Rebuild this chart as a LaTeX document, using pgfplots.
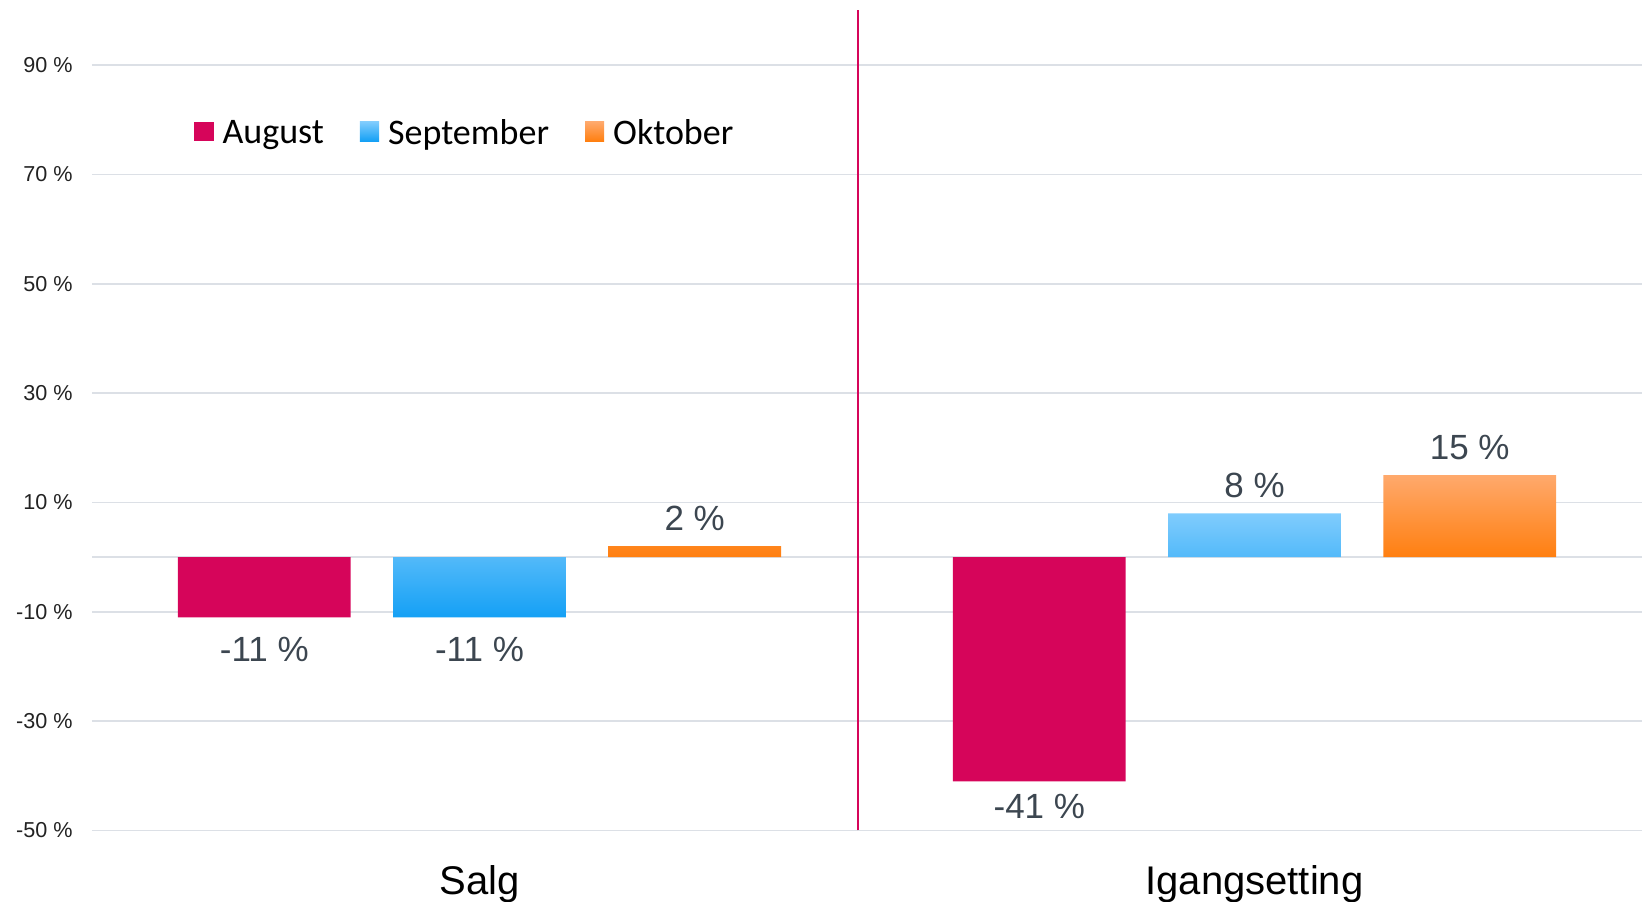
\documentclass[border=0pt]{standalone}
\usepackage{pgfplots}
\pgfplotsset{compat=1.18}
\usepackage{fontspec}
\setmainfont{Liberation Sans}
\newfontfamily\legfont{Carlito}
\definecolor{aug}{HTML}{D6055A}
\definecolor{septop}{HTML}{80CCFD}
\definecolor{sepbot}{HTML}{14A0F5}
\definecolor{okttop}{HTML}{FFA96C}
\definecolor{oktbot}{HTML}{FF7F10}
\definecolor{gridc}{HTML}{DCE0E6}
\definecolor{ticktxt}{HTML}{222222}
\definecolor{valtxt}{HTML}{3C4650}
\begin{document}
\begin{tikzpicture}
\begin{axis}[
  scale only axis,
  width=775pt, height=410pt,
  xmin=-0.5, xmax=1.5,
  ymin=-50, ymax=100,
  axis line style={draw=none},
  major tick length=0pt,
  ybar=21.2pt,
  bar width=86.4pt,
  /pgf/number format/assume math mode=true,
  xtick={0,1},
  xticklabels={Salg,Igangsetting},
  xticklabel style={font=\fontsize{20}{24}\selectfont, text=black, inner sep=0pt, yshift=-17.5pt},
  ytick={-50,-30,...,90},
  yticklabel={\pgfmathprintnumber{\tick}~\%},
  yticklabel style={font=\fontsize{10.8}{13}\selectfont, text=ticktxt, inner sep=0pt, xshift=-9.5pt},
  ymajorgrids,
  grid style={gridc, line width=0.9pt},
  extra y ticks={0},
  extra y tick labels={},
  extra y tick style={grid style={gridc, line width=0.9pt}},
  nodes near coords={\pgfmathprintnumber{\pgfplotspointmeta}~\%},
  every node near coord/.append style={font=\fontsize{17.5}{20}\selectfont, text=valtxt, inner sep=6.5pt},
  coordinate style/.condition={y>0}{yshift=1.2pt},
  coordinate style/.condition={y<0 && y>-20}{yshift=-3.5pt},
  legend columns=3,
  legend style={at={(rel axis cs:0.0658,0.8495)}, anchor=west, draw=none, fill=none, inner sep=0pt,
    font=\legfont\fontsize{18}{21}\selectfont,
    nodes={inner sep=0pt},
    /tikz/every odd column/.append style={column sep=4.5pt},
    /tikz/every even column/.append style={column sep=18pt}},
  legend image code/.code={\fill[#1,draw=none] (0pt,-3.6pt) rectangle (9.6pt,6pt);},
]
\addplot[fill=aug, draw=none] coordinates {(0,-11) (1,-41)};
\addplot[top color=septop, bottom color=sepbot, draw=none] coordinates {(0,-11) (1,8)};
\addplot[top color=okttop, bottom color=oktbot, draw=none] coordinates {(0,2) (1,15)};
\legend{August,September,Oktober}
\draw[aug, line width=1pt] (axis cs:0.489,-50) -- (axis cs:0.489,100);
\coordinate (BL) at (rel axis cs:0,0);
\coordinate (TR) at (rel axis cs:1,1);
\end{axis}
\pgfresetboundingbox
\useasboundingbox ([xshift=-46pt,yshift=-35.75pt]BL) rectangle ([yshift=5.25pt]TR);
\end{tikzpicture}
\end{document}
